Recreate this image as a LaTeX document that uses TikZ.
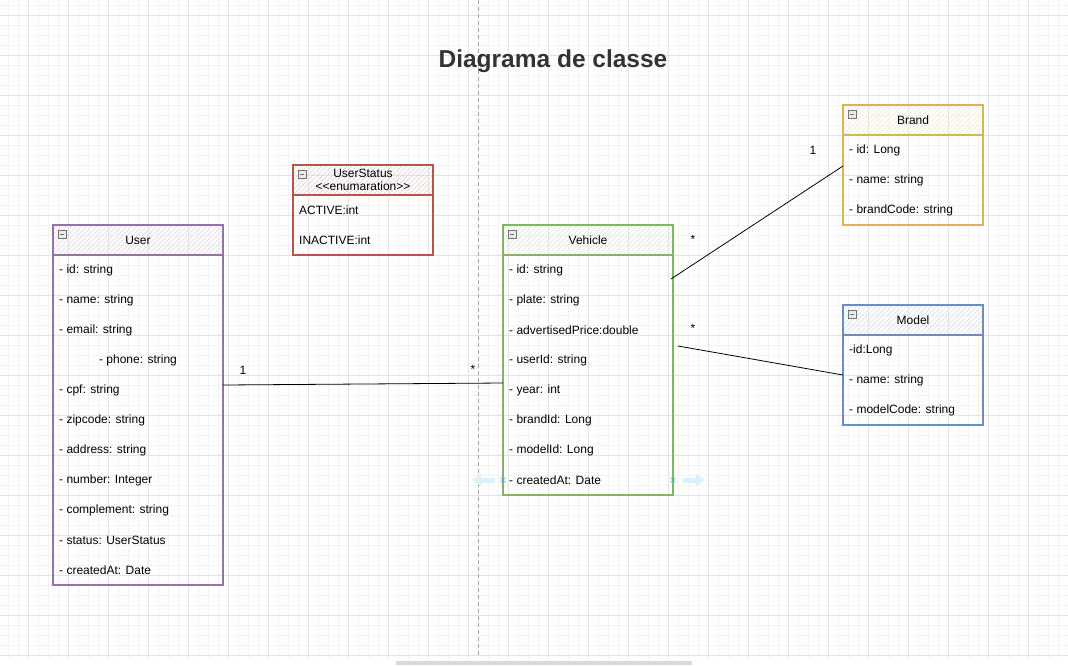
\documentclass[tikz,border=0pt]{standalone}
\usepackage{fontspec}
\setmainfont{Liberation Sans}
\usetikzlibrary{positioning,calc,arrows.meta}
\definecolor{umlpurple}{HTML}{9673A6}
\definecolor{umlred}{HTML}{B85450}
\definecolor{umlgreen}{HTML}{82B366}
\definecolor{umlyellow}{HTML}{D6B656}
\definecolor{umlblue}{HTML}{6C8EBF}
\definecolor{gridmajor}{HTML}{E3E3E3}
\definecolor{gridminor}{HTML}{F3F3F3}
\definecolor{titlegray}{HTML}{333333}
\definecolor{hoverblue}{HTML}{DCEFFC}
\definecolor{markblue}{HTML}{29B6F2}
\tikzset{
classhead/.style={draw=#1,line width=1.2pt,minimum height=30pt,inner sep=0pt,outer sep=0pt,anchor=north west,align=center,font=\fontsize{12}{14}\selectfont,
  path picture={\foreach \k in {0,5,...,220} \draw[#1!30,line width=.5pt] ($(path picture bounding box.south west)+(\k-40,0)$)--++(40,-40);}},
classbody/.style={draw=#1,line width=1.2pt,inner sep=0pt,outer sep=0pt},
field/.style={anchor=west,inner sep=0pt,font=\fontsize{12}{14}\selectfont},
minusbox/.style={draw=black!55,fill=black!8,line width=.6pt,minimum size=8pt,inner sep=0pt,path picture={\draw[line width=.8pt] ($(path picture bounding box.west)+(1.8pt,0)$)--($(path picture bounding box.east)+(-1.8pt,0)$);}},
assoc/.style={draw=black,line width=.8pt},
mult/.style={inner sep=0pt,font=\fontsize{12}{14}\selectfont}
}
\begin{document}
\begin{tikzpicture}[x=1pt,y=-1pt]
\useasboundingbox (0,0) rectangle (1068,665);
\fill[white] (0,0) rectangle (1068,665);
% grid
\foreach \gx in {8,18,...,1068} \draw[gridminor,line width=1pt] (\gx,0)--(\gx,658);
\foreach \gy in {5,15,...,655} \draw[gridminor,line width=1pt] (0,\gy)--(1068,\gy);
\foreach \gx in {28,68,...,1068} \draw[gridmajor,line width=1pt] (\gx,0)--(\gx,658);
\foreach \gy in {15,55,...,655} \draw[gridmajor,line width=1pt] (0,\gy)--(1068,\gy);
\draw[black!35,line width=1pt,dash pattern=on 4pt off 3pt] (478,0)--(478,658);
\fill[black!15] (396,661) rectangle (692,665);

\node[font=\fontsize{24.5}{28}\selectfont\bfseries,text=titlegray] (title) at (553,61) {Diagrama de classe};

% User
\node[classhead=umlpurple,minimum width=170pt] (user) at (53,225) {User};
\node[classbody=umlpurple,minimum width=170pt,minimum height=330pt,below=0pt of user] (userbody) {};
\foreach \r/\f in {1/- id: string,2/- name: string,3/- email: string,5/- cpf: string,6/- zipcode: string,7/- address: string,8/- number: Integer,9/- complement: string,10/- status: UserStatus,11/- createdAt: Date}
  \node[field] at ($(userbody.north west)+(6,{30*\r-15})$) {\f};
\node[field,anchor=center] (phone) at ($(userbody.north)+(0,105)$) {- phone: string};

% UserStatus
\node[classhead=umlred,minimum width=140pt,font=\fontsize{12}{12.5}\selectfont] (status) at (293,165) {UserStatus\\<{}<enumaration>{}>};
\node[classbody=umlred,minimum width=140pt,minimum height=60pt,below=0pt of status] (statusbody) {};
\foreach \r/\f in {1/ACTIVE:int,2/INACTIVE:int}
  \node[field] at ($(statusbody.north west)+(6,{30*\r-15})$) {\f};

% Vehicle
\node[classhead=umlgreen,minimum width=170pt] (vehicle) at (503,225) {Vehicle};
\node[classbody=umlgreen,minimum width=170pt,minimum height=240pt,below=0pt of vehicle] (vehiclebody) {};
\foreach \r/\f in {1/- id: string,2/- plate: string,3/- advertisedPrice:double,4/- userId: string,5/- year: int,6/- brandId: Long,7/- modelId: Long,8/- createdAt: Date}
  \node[field] at ($(vehiclebody.north west)+(6,{30*\r-15})$) {\f};

% Brand
\node[classhead=umlyellow,minimum width=140pt] (brand) at (843,105) {Brand};
\node[classbody=umlyellow,minimum width=140pt,minimum height=90pt,below=0pt of brand] (brandbody) {};
\foreach \r/\f in {1/- id: Long,2/- name: string,3/- brandCode: string}
  \node[field] at ($(brandbody.north west)+(6,{30*\r-15})$) {\f};

% Model
\node[classhead=umlblue,minimum width=140pt] (model) at (843,305) {Model};
\node[classbody=umlblue,minimum width=140pt,minimum height=90pt,below=0pt of model] (modelbody) {};
\foreach \r/\f in {1/-id:Long,2/- name: string,3/- modelCode: string}
  \node[field] at ($(modelbody.north west)+(6,{30*\r-15})$) {\f};

% collapse icons
\foreach \c in {user,status,vehicle,brand,model}
  \node[minusbox] at ($(\c.north west)+(9,9)$) {};

% associations
\coordinate (uv1) at ($(userbody.north east)+(0,130)$);
\coordinate (uv2) at ($(vehiclebody.north west)+(0,128)$);
\coordinate (vb1) at ($(vehiclebody.north east)+(-2,24)$);
\coordinate (vb2) at ($(brandbody.north west)+(0,31)$);
\coordinate (vm1) at ($(vehiclebody.north east)+(5,91)$);
\coordinate (vm2) at ($(modelbody.north west)+(0,40)$);
\draw[assoc] (uv1)--(uv2);
\draw[assoc] (vb1)--(vb2);
\draw[assoc] (vm1)--(vm2);
\node[mult] at (243,370) {1};
\node[mult] at (473,369) {*};
\node[mult] at (693,239) {*};
\node[mult] at (813,150) {1};
\node[mult] at (693,328) {*};

% hover handles
\draw[hoverblue,line width=5pt,-{Triangle[length=9pt,width=12pt]}] (495,480)--(472,480);
\draw[hoverblue,line width=5pt,-{Triangle[length=9pt,width=12pt]}] (683,480)--(705,480);
\foreach \hx in {503,673}
  \draw[markblue,line width=.6pt] (\hx-2.5,477.5)--(\hx+2.5,482.5) (\hx-2.5,482.5)--(\hx+2.5,477.5);
\end{tikzpicture}
\end{document}
